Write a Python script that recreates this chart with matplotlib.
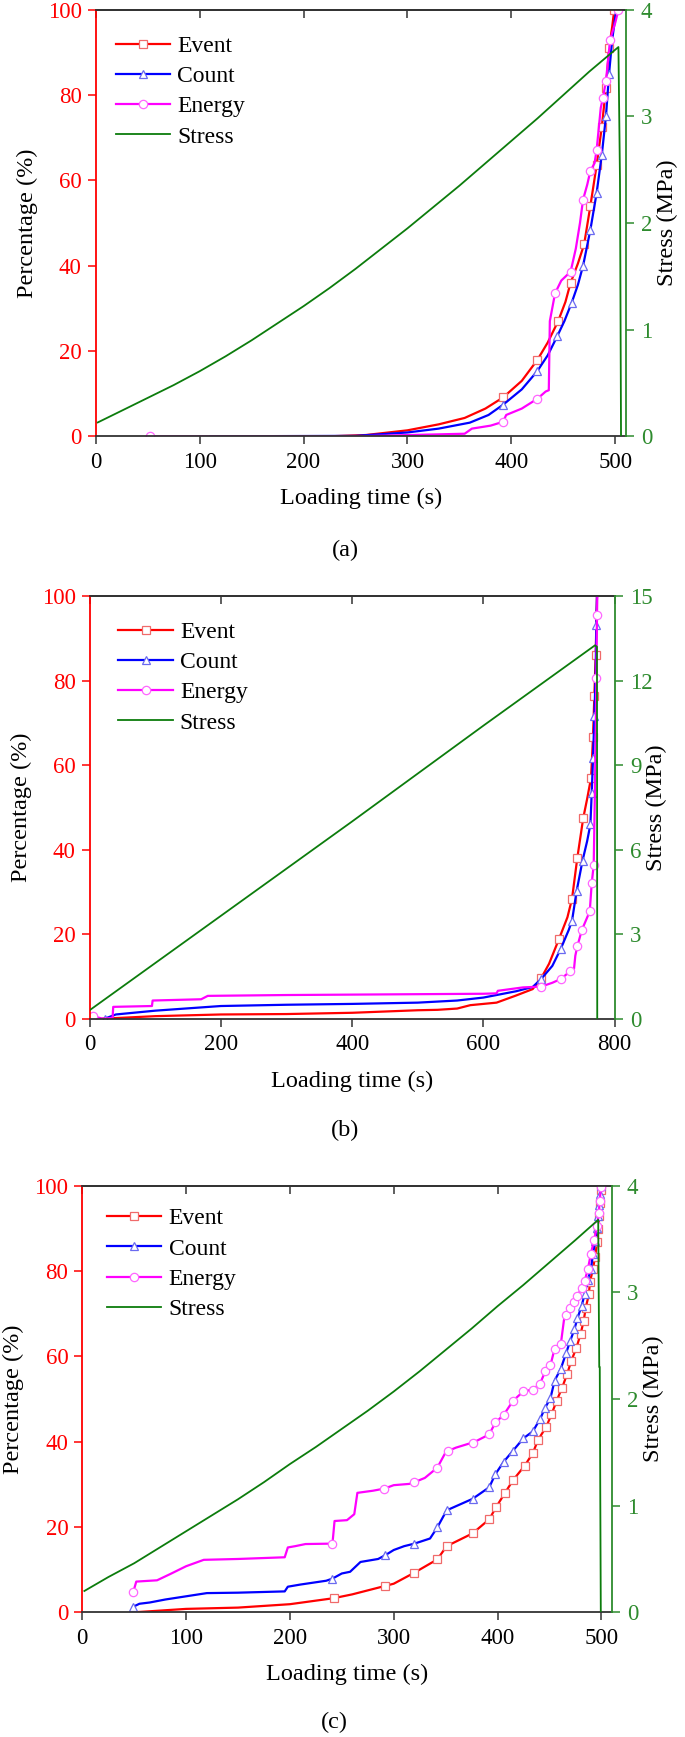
import matplotlib
matplotlib.use('Agg')
import matplotlib.pyplot as plt

plt.rcParams['font.family'] = ['Liberation Serif', 'DejaVu Serif']

# ---------------- panel (a) ----------------
t_event_a = [225, 260, 300, 330, 355, 375, 392, 410, 425, 435, 445, 452, 457, 464, 470, 476, 482, 487, 491, 494, 497, 499]
event_a = [0, 0.3, 1.4, 2.8, 4.3, 6.5, 9.1, 13, 17.9, 22, 27, 31.5, 36, 40.5, 45, 54, 63.5, 72.5, 81.7, 91, 96, 100]
mk_event_a = [6, 8, 10, 12, 14, 15, 16, 17, 18, 19, 21]

t_count_a = [110, 250, 300, 330, 360, 378, 392, 410, 425, 435, 444, 451, 458, 464, 469, 476, 482, 487, 491, 494, 497, 501]
count_a = [0, 0.1, 0.9, 1.8, 3.2, 5.0, 7.4, 11, 15.3, 19, 23.4, 27, 31.3, 35.5, 40, 48.4, 57, 66, 75, 85, 93, 100]
mk_count_a = [6, 8, 10, 12, 14, 15, 16, 17, 18, 19]

t_energy_a = [52, 250, 355, 362, 380, 392, 395, 410, 425, 433, 436, 437, 442, 448, 457, 462, 466, 469, 473, 476,
              480, 482, 486, 488, 491, 495, 500, 503]
energy_a = [0, 0, 0.6, 1.8, 2.5, 3.4, 5, 6.5, 8.8, 10.5, 10.8, 27, 33.5, 36.5, 38.6, 44, 50, 55.5, 59, 62.2,
            64, 67, 77, 79.2, 83.3, 93, 97, 100]
mk_energy_a = [0, 5, 8, 12, 14, 17, 19, 21, 23, 24, 25, 27]

t_stress_a = [2, 25, 50, 75, 100, 125, 150, 175, 200, 225, 250, 275, 300, 325, 350, 375, 400, 425, 450, 475,
              503, 504.5, 505, 505.5]
stress_a = [0.13, 0.24, 0.36, 0.48, 0.61, 0.75, 0.9, 1.06, 1.22, 1.39, 1.57, 1.76, 1.95, 2.15, 2.35, 2.56,
            2.77, 2.98, 3.2, 3.42, 3.65, 2.4, 1.2, 0]

# ---------------- panel (b) ----------------
t_event_b = [20, 100, 200, 300, 400, 450, 500, 530, 560, 580, 620, 650, 675, 688, 700, 715, 728, 735, 743, 752,
             758, 764, 767, 769, 771, 773]
event_b = [0, 0.6, 1.0, 1.1, 1.4, 1.7, 2.0, 2.1, 2.4, 3.2, 3.8, 5.5, 7.0, 9.6, 13, 18.8, 24, 28.4, 38, 47.4,
           52, 57, 66.7, 76.3, 86, 100]
mk_event_b = [13, 15, 17, 18, 19, 21, 22, 23, 24]

t_count_b = [23, 40, 100, 200, 300, 400, 500, 560, 600, 650, 675, 688, 705, 718, 730, 735, 742, 751, 758, 763,
             765, 767, 769, 771, 772, 773]
count_b = [0, 1.0, 1.9, 3.0, 3.3, 3.5, 3.8, 4.3, 5.0, 6.5, 7.5, 9.4, 12.5, 16.6, 21, 23.2, 30.2, 37.4, 42, 46,
           53.5, 61.7, 71.5, 82, 93.2, 100]
mk_count_b = [0, 11, 13, 15, 16, 17, 19, 20, 21, 22, 24]

t_energy_b = [5, 20, 35, 36, 95, 96, 170, 180, 300, 400, 500, 600, 620, 622, 660, 688, 705, 718, 732, 738,
              740, 743, 750, 762, 765, 768, 770, 772, 773, 773.5]
energy_b = [0.6, 0, 0.2, 2.8, 3.0, 4.3, 4.6, 5.4, 5.6, 5.7, 5.8, 5.9, 6.0, 6.6, 7.4, 7.6, 8.5, 9.4, 11.2, 11.8,
            14.9, 17.1, 21, 25.4, 32.1, 36.3, 55, 80.5, 95.5, 100]
mk_energy_b = [0, 15, 17, 18, 21, 22, 23, 24, 25, 27, 28]

t_stress_b = [0, 200, 400, 600, 770, 773, 773.4]
stress_b = [0.3, 3.65, 7.0, 10.4, 13.25, 13.2, 0]

# ---------------- panel (c) ----------------
t_event_c = [50, 100, 150, 200, 242, 260, 292, 300, 320, 342, 351, 376, 392, 399, 407, 415, 426, 434, 439, 447,
             452, 457, 462, 467, 471, 476, 480, 483, 485, 488, 489, 492, 494, 496, 497, 498, 499, 500]
event_c = [0, 0.8, 1.1, 1.9, 3.3, 4.2, 6.2, 6.7, 9.3, 12.4, 15.5, 18.5, 21.8, 24.8, 27.9, 31, 34.3, 37.3, 40.4, 43.5,
           46.4, 49.6, 52.5, 55.8, 58.9, 62, 65.2, 68.3, 71.4, 74.5, 77.4, 80.5, 83.4, 86.8, 89.9, 93, 96, 99]
mk_event_c = [4, 6] + list(range(8, 38))

t_count_c = [49, 55, 65, 80, 100, 120, 150, 195, 198, 210, 235, 241, 250, 258, 268, 285, 292, 300, 310, 320,
             335, 342, 351, 376, 392, 398, 406, 415, 425, 434, 441, 446, 451, 455, 461, 466, 470, 474, 477, 481,
             484, 487, 490, 492, 494, 496, 497, 498, 499, 500]
count_c = [1.3, 2.0, 2.3, 3.0, 3.75, 4.5, 4.6, 4.9, 6.0, 6.5, 7.4, 7.9, 9.1, 9.5, 11.8, 12.5, 13.4, 14.6, 15.5, 16.1,
           17.3, 19.9, 23.9, 26.6, 29.3, 32.4, 35.3, 37.9, 40.8, 42.4, 45.3, 48, 50.2, 54.3, 57.1, 60.7, 63.6, 66.3,
           68.9, 71.8, 74.6, 77.9, 80.5, 84, 87, 90, 93, 95.5, 98, 100]
mk_count_c = [0, 11, 16, 19] + list(range(21, 50))

t_energy_c = [49, 52, 72, 85, 100, 117, 150, 195, 198, 205, 215, 241, 243, 255, 262, 265, 280, 291, 300, 315,
              320, 330, 342, 350, 352, 360, 372, 376, 392, 398, 406, 415, 425, 434, 441, 446, 451, 455, 461, 464,
              466, 470, 474, 477, 481, 484, 487, 490, 493, 496, 497.5, 498.5, 499.5]
energy_c = [4.7, 7.2, 7.5, 9, 10.8, 12.3, 12.5, 12.9, 15.2, 15.5, 16, 16.1, 21.4, 21.6, 23, 28, 28.5, 29, 29.8, 30.1,
            30.5, 31.5, 33.9, 37.5, 37.8, 38.6, 39.5, 39.7, 41.7, 44.5, 46.3, 49.6, 51.8, 52.2, 53.6, 56.5, 57.9,
            61.8, 62.9, 68.5, 69.8, 71.4, 72.8, 74.1, 76.1, 77.7, 80.4, 84.1, 87.3, 90.6, 93.5, 96.4, 99.6]
mk_energy_c = [0, 11, 17, 20, 22, 24, 27] + list(range(28, 39)) + list(range(40, 53))

t_stress_c = [2, 25, 50, 75, 100, 125, 150, 175, 200, 225, 250, 275, 300, 325, 350, 375, 400, 425, 450, 475,
              497, 498, 498.5, 499, 499.5]
stress_c = [0.2, 0.33, 0.46, 0.61, 0.76, 0.91, 1.06, 1.22, 1.39, 1.55, 1.72, 1.89, 2.07, 2.26, 2.46, 2.66,
            2.87, 3.07, 3.28, 3.49, 3.68, 2.3, 2.3, 1.1, 0]

RED = '#ff0000'
GREEN_AX = '#2e8b2e'
GREEN_LINE = '#0c7c0c'
DARK = '#333333'

fig = plt.figure(figsize=(6.85, 17.37), dpi=100)


def panel(rect, xlim, xticks, s_max, s_ticks, series, stress, leg_xy, caption, cap_xy):
    ax = fig.add_axes(rect)
    styles = [('Event', RED, 's', '#f06a6a'),
              ('Count', '#0000ff', '^', '#6a6af0'),
              ('Energy', '#ff00ff', 'o', '#ff66ff')]
    for (lab, col, mk, mec), (tx, vy, every) in zip(styles, series):
        ax.plot(tx, vy, color=col, lw=1.6, marker=mk, markevery=every, ms=6,
                mfc='white', mec=mec, mew=0.9, label=lab)
    ax.set_xlim(*xlim)
    ax.set_ylim(0, 100)
    ax.set_xticks(xticks)
    ax.set_yticks(range(0, 101, 20))
    ax.tick_params(axis='x', direction='out', length=6, width=1.1, pad=5, labelsize=16.5, colors='black')
    ax.tick_params(axis='x', color=DARK)
    ax.tick_params(axis='y', direction='out', length=6, width=1.1, pad=4, labelsize=16.5,
                   colors=RED)
    ax.spines['left'].set_color(RED)
    ax.spines['right'].set_visible(False)
    for sp in ('top', 'bottom'):
        ax.spines[sp].set_color(DARK)
    for sp in ax.spines.values():
        sp.set_linewidth(1.3)
    top = ax.secondary_xaxis('top')
    top.set_xticks(xticks)
    top.tick_params(direction='in', length=6, width=1.1, labeltop=False, color=DARK)
    top.spines['top'].set_color(DARK)
    top.spines['top'].set_linewidth(1.3)

    ax.set_xlabel('Loading time (s)', fontsize=17.5)
    ax.set_ylabel('Percentage (%)', fontsize=17.5)

    ax2 = ax.twinx()
    ts, sv = stress
    ax2.plot(ts, sv, color=GREEN_LINE, lw=1.3, label='Stress')
    ax2.set_ylim(0, s_max)
    ax2.set_yticks(s_ticks)
    ax2.tick_params(axis='y', direction='out', length=6, width=1.1, pad=5, labelsize=16.5,
                    colors=GREEN_AX)
    for sp in ('left', 'top', 'bottom'):
        ax2.spines[sp].set_visible(False)
    ax2.spines['right'].set_color(GREEN_AX)
    ax2.spines['right'].set_linewidth(1.3)
    ax2.set_ylabel('Stress (MPa)', fontsize=17.5)

    h1, l1 = ax.get_legend_handles_labels()
    h2, l2 = ax2.get_legend_handles_labels()
    ax2.legend(h1 + h2, l1 + l2, loc='upper left', bbox_to_anchor=leg_xy, frameon=False,
               fontsize=17, handlelength=2.3, handletextpad=0.3, labelspacing=0.37,
               borderpad=0, borderaxespad=0)

    # label placement in axes coordinates
    w_px = rect[2] * 685
    h_px = rect[3] * 1737
    ax.yaxis.set_label_coords(-58 / w_px, 0.5)
    ax2.yaxis.set_label_coords(1 + 31 / w_px, 0.5)
    ax.xaxis.set_label_coords(0.5, -52 / h_px)
    fig.text(cap_xy[0] / 685, 1 - cap_xy[1] / 1737, caption, fontsize=17.5,
             ha='center', va='center')
    return ax


panel([95.7 / 685, 1 - 436.3 / 1737, 530 / 685, 426.6 / 1737], (0, 510), range(0, 501, 100),
      4, range(0, 5),
      [(t_event_a, event_a, mk_event_a), (t_count_a, count_a, mk_count_a), (t_energy_a, energy_a, mk_energy_a)],
      (t_stress_a, stress_a), (0.038, 0.94), '(a)', (345, 550))

panel([89.6 / 685, 1 - 1018.7 / 1737, 525.1 / 685, 422.7 / 1737], (0, 800), range(0, 801, 200),
      15, range(0, 16, 3),
      [(t_event_b, event_b, mk_event_b), (t_count_b, count_b, mk_count_b), (t_energy_b, energy_b, mk_energy_b)],
      (t_stress_b, stress_b), (0.055, 0.94), '(b)', (345, 1130))

panel([82.3 / 685, 1 - 1612.3 / 1737, 529.4 / 685, 426.6 / 1737], (0, 510), range(0, 501, 100),
      4, range(0, 5),
      [(t_event_c, event_c, mk_event_c), (t_count_c, count_c, mk_count_c), (t_energy_c, energy_c, mk_energy_c)],
      (t_stress_c, stress_c), (0.047, 0.948), '(c)', (334, 1722.6))

fig.savefig('out.png', dpi=100)
